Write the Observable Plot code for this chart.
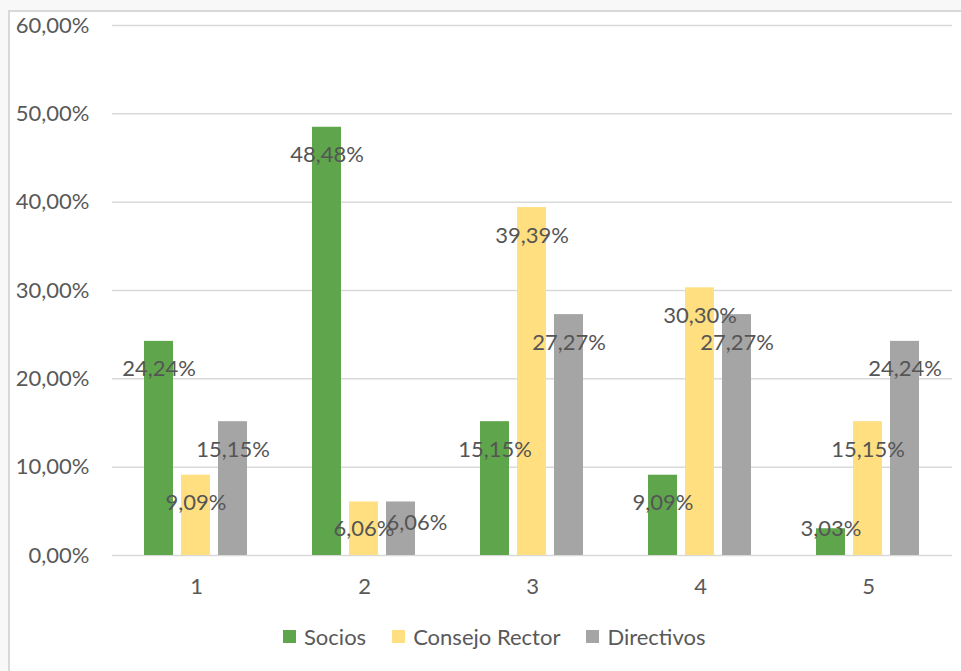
<!DOCTYPE html>
<html>
<head>
<meta charset="utf-8">
<script src="https://cdn.jsdelivr.net/npm/d3@7"></script>
<script src="https://cdn.jsdelivr.net/npm/@observablehq/plot@0.6"></script>
<style>
  html, body { margin: 0; padding: 0; background: #f8f8f8; }
  #frame {
    position: absolute; left: 8px; top: 10px; width: 980px; height: 700px;
    background: #ffffff; border-left: 2px solid #d9d9d9; border-top: 2px solid #d9d9d9;
    box-sizing: border-box;
  }
  #chart { position: absolute; left: 0; top: 0; }
  #legend {
    position: absolute; left: 283px; top: 623px; display: flex; align-items: center;
    font-family: Lato, "Open Sans", sans-serif; font-size: 22px; color: #595959;
  }
  .item { display: flex; align-items: center; margin-right: 26px; }
  .sw { width: 13px; height: 13px; margin-right: 8px; }
</style>
</head>
<body>
<div id="frame"></div>
<div id="chart"></div>
<div id="legend"></div>
<script>
const categories = ["1", "2", "3", "4", "5"];
const series = ["Socios", "Consejo Rector", "Directivos"];
const socios = [24.24, 48.48, 15.15, 9.09, 3.03];
const consejoRector = [9.09, 6.06, 39.39, 30.30, 15.15];
const directivos = [15.15, 6.06, 27.27, 27.27, 24.24];
const colors = ["#5EA54C", "#FFDF80", "#A5A5A5"];
const yTicks = [0, 10, 20, 30, 40, 50, 60];

const fmt = v => v.toFixed(2).replace(".", ",") + "%";
const seriesValues = [socios, consejoRector, directivos];
const rows = categories.flatMap((c, i) =>
  series.map((s, j) => ({category: c, serie: s, index: j, value: seriesValues[j][i]}))
);

// labels sit inside the bar end; short bars keep the label above the baseline
const labelY = d => Math.max(d.value, 6.2);
// a label that would sit on top of its left neighbour's label is nudged aside
const bumped = d => {
  if (d.index === 0) return false;
  const prev = rows.find(r => r.category === d.category && r.index === d.index - 1);
  return Math.abs(labelY(prev) - labelY(d)) < 2;
};

const chart = Plot.plot({
  width: 961,
  height: 610,
  marginTop: 25,
  marginBottom: 55,
  marginLeft: 110,
  marginRight: 8,
  style: {fontFamily: "Lato, 'Open Sans', sans-serif", fontSize: "22px", color: "#595959", background: "transparent"},
  fx: {domain: categories, padding: 0, label: null},
  x: {domain: series, paddingInner: 0.21, paddingOuter: 0.85, axis: null},
  y: {domain: [0, 60], label: null},
  color: {domain: series, range: colors},
  marks: [
    Plot.ruleY(yTicks, {stroke: "#d9d9d9", strokeWidth: 1.5}),
    Plot.axisY({ticks: yTicks, tickFormat: fmt, tickSize: 0, tickPadding: 23, label: null}),
    Plot.axisFx({anchor: "bottom", tickSize: 0, tickPadding: 23, label: null}),
    Plot.barY(rows, {fx: "category", x: "serie", y: "value", fill: "serie"}),
    Plot.text(rows.filter(d => !bumped(d)), {
      fx: "category", x: "serie", y: labelY, dy: 28,
      text: d => fmt(d.value), fill: "#555555", fontSize: 22
    }),
    Plot.text(rows.filter(bumped), {
      fx: "category", x: "serie", y: labelY, dy: 22, dx: 16,
      text: d => fmt(d.value), fill: "#555555", fontSize: 22
    })
  ]
});
document.getElementById("chart").appendChild(chart);

const legend = document.getElementById("legend");
series.forEach((s, i) => {
  const item = document.createElement("div");
  item.className = "item";
  const sw = document.createElement("span");
  sw.className = "sw";
  sw.style.background = colors[i];
  const label = document.createElement("span");
  label.textContent = s;
  item.appendChild(sw);
  item.appendChild(label);
  legend.appendChild(item);
});
</script>
</body>
</html>
